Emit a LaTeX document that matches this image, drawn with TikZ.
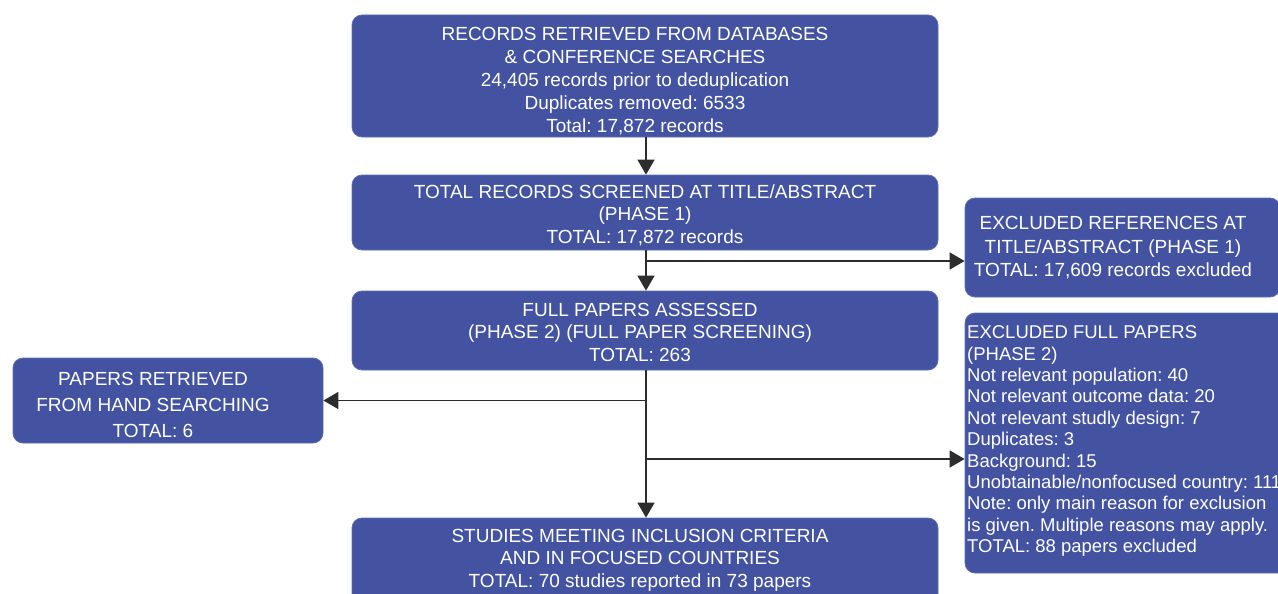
\documentclass[tikz,border=0pt]{standalone}
\usepackage{fontspec}
\setmainfont{Liberation Sans}
\frenchspacing
\usetikzlibrary{arrows.meta}
\definecolor{boxblue}{RGB}{67,83,162}
\definecolor{boxedge}{RGB}{95,110,180}
\definecolor{linegray}{RGB}{45,45,45}
\tikzset{
  box/.style={rounded corners=10pt, fill=boxblue, draw=boxedge, line width=0.8pt, inner sep=0pt},
  txt/.style={text=white, align=center, inner sep=0pt},
  arr/.style={draw=linegray, line width=1.8pt, -{Triangle[length=15pt,width=17pt]}}
}
\begin{document}
\frenchspacing
\begin{tikzpicture}[x=1pt,y=-1pt]
\useasboundingbox (0,0) rectangle (1278,594);
\clip (0,0) rectangle (1278,594);
% boxes
\node[box, minimum width=586pt, minimum height=122pt] (b1) at (645,76) {};
\node[box, minimum width=586pt, minimum height=75pt] (b2) at (645,212.5) {};
\node[box, minimum width=586pt, minimum height=79pt] (b3) at (645,330.5) {};
\node[box, minimum width=586pt, minimum height=100pt] (b4) at (645,568) {};
\node[box, minimum width=310pt, minimum height=85pt] (hand) at (168,400.5) {};
\node[box, minimum width=315pt, minimum height=99pt] (ex1) at (1122.5,247.5) {};
\node[box, minimum width=335pt, minimum height=260pt] (ex2) at (1132.5,443) {};
% texts
\node[txt, font=\fontsize{19}{23}\selectfont] (t1) at (635,81) {RECORDS RETRIEVED FROM DATABASES\\\& CONFERENCE SEARCHES\\24,405 records prior to deduplication\\Duplicates removed: 6533\\Total: 17,872 records};
\node[txt, font=\fontsize{19}{22.5}\selectfont] (t2) at (645,215) {TOTAL RECORDS SCREENED AT TITLE/ABSTRACT\\(PHASE 1)\\TOTAL: 17,872 records};
\node[txt, font=\fontsize{19}{22.5}\selectfont] (t3) at (640,332) {FULL PAPERS ASSESSED\\(PHASE 2) (FULL PAPER SCREENING)\\TOTAL: 263};
\node[txt, font=\fontsize{19}{22.5}\selectfont] (t4) at (640,560) {STUDIES MEETING INCLUSION CRITERIA\\AND IN FOCUSED COUNTRIES\\TOTAL: 70 studies reported in 73 papers};
\node[txt, font=\fontsize{19}{26}\selectfont] (th) at (153,405) {PAPERS RETRIEVED\\FROM HAND SEARCHING\\TOTAL: 6};
\node[txt, font=\fontsize{19}{23.5}\selectfont] (te1) at (1113,248) {EXCLUDED REFERENCES AT\\TITLE/ABSTRACT (PHASE 1)\\TOTAL: 17,609 records excluded};
\node[txt, align=left, anchor=north west, font=\fontsize{18.5}{21.4}\selectfont] (te2) at (967,325.5) {EXCLUDED FULL PAPERS\\(PHASE 2)\\Not relevant population: 40\\Not relevant outcome data: 20\\Not relevant studly design: 7\\Duplicates: 3\\Background: 15\\Unobtainable/nonfocused country: 111\\Note: only main reason for exclusion\\is given. Multiple reasons may apply.\\TOTAL: 88 papers excluded};
% connectors
\coordinate (j1) at (646,261);
\coordinate (j2) at (646,459);
\draw[arr] (b1.south -| j1) -- (b2.north -| j1);
\draw[arr] (b2.south -| j1) -- (b3.north -| j1);
\draw[arr] (j1) -- (j1 -| ex1.west);
\draw[arr] (b3.south -| j1) -- (b4.north -| j1);
\draw[arr] (hand.east -| j1) -- (hand.east);
\draw[arr] (j2) -- (j2 -| ex2.west);
\end{tikzpicture}
\end{document}
